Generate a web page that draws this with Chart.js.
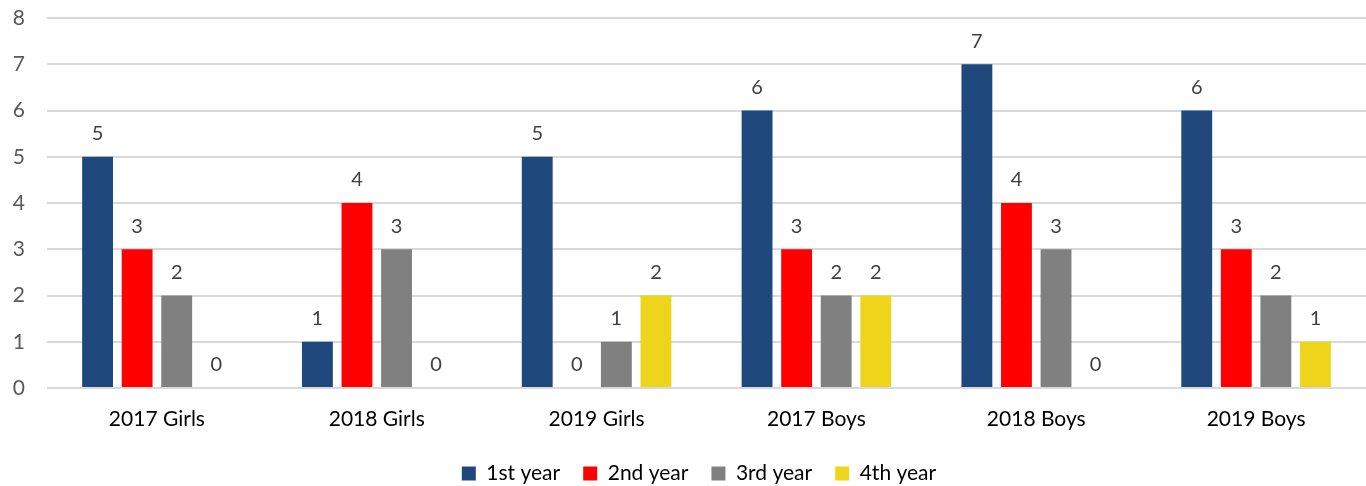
<!DOCTYPE html>
<html>
<head>
<meta charset="utf-8">
<script src="https://cdn.jsdelivr.net/npm/chart.js@4/dist/chart.umd.min.js"></script>
<style>
html,body{margin:0;padding:0;background:#fff}
#wrap{width:1366px;height:486px}
</style>
</head>
<body>
<div id="wrap"><canvas id="bars"></canvas></div>
<script>
let categories=["2017 Girls","2018 Girls","2019 Girls","2017 Boys","2018 Boys","2019 Boys"]
let firstYear=[5,1,5,6,7,6]
let secondYear=[3,4,0,3,4,3]
let thirdYear=[2,3,1,2,3,2]
let fourthYear=[0,0,2,2,0,1]
let seriesNames=["1st year","2nd year","3rd year","4th year"]
let barColors=["#1f497d","#ff0000","#808080","#eed51b"]
let yTicks=[0,1,2,3,4,5,6,7,8]

let fontName="Lato, 'Open Sans', sans-serif"

// value above every bar, zeros too
let valueLabels={
  id:"valueLabels",
  afterInit(chart){
    // fixed legend height so the plot keeps its place
    let lg=chart.legend
    let fit=lg.fit
    lg.fit=function(){fit.call(this);this.height=46}
  },
  afterLayout(chart){
    // legend sits a bit right of centre in the original
    chart.legend.left+=14
    chart.legend.right+=14
  },
  afterDatasetsDraw(chart){
    let ctx=chart.ctx
    ctx.save()
    ctx.font="20px "+fontName
    ctx.fillStyle="#404040"
    ctx.textAlign="center"
    ctx.textBaseline="bottom"
    chart.data.datasets.forEach((ds,i)=>{
      chart.getDatasetMeta(i).data.forEach((bar,j)=>{
        ctx.fillText(ds.data[j],bar.x,bar.y-13)
      })
    })
    ctx.restore()
  }
}

new Chart("bars",{
  type:"bar",
  data:{
    labels:categories,
    datasets:[firstYear,secondYear,thirdYear,fourthYear].map((d,i)=>({
      label:seriesNames[i],
      data:d,
      backgroundColor:barColors[i],
      categoryPercentage:0.72,
      barPercentage:0.78
    }))
  },
  options:{
    responsive:true,
    maintainAspectRatio:false,
    animation:false,
    layout:{padding:{top:18,right:0,left:4,bottom:0}},
    plugins:{
      tooltip:{enabled:false},
      legend:{
        position:"bottom",
        labels:{
          boxWidth:14,boxHeight:14,
          padding:23,
          color:"#000",
          font:{family:fontName,size:21}
        }
      }
    },
    scales:{
      x:{
        grid:{display:false},
        border:{display:false},
        ticks:{color:"#000",font:{family:fontName,size:21},padding:11},
        afterFit:(s)=>{s.height=52;s.paddingLeft=0;s.paddingRight=0}
      },
      y:{
        min:0,max:8,
        afterBuildTicks:(axis)=>{axis.ticks=yTicks.map(v=>({value:v}))},
        afterFit:(s)=>{s.width=43;s.paddingTop=0;s.paddingBottom=0},
        grid:{color:"#d9d9d9",lineWidth:2,drawTicks:false},
        border:{display:false},
        ticks:{color:"#595959",font:{family:fontName,size:21},padding:22}
      }
    }
  },
  plugins:[valueLabels]
})
</script>
</body>
</html>
